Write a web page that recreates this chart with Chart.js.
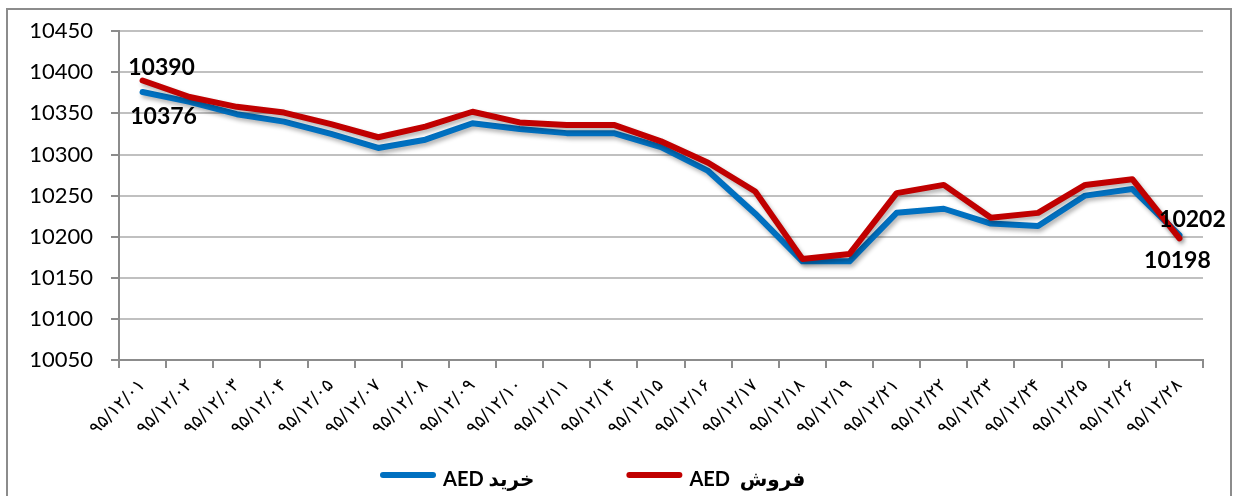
<!DOCTYPE html>
<html>
<head>
<meta charset="utf-8">
<title>AED</title>
<script src="https://cdn.jsdelivr.net/npm/chart.js@4.4.0/dist/chart.umd.min.js"></script>
<style>
  html, body { margin: 0; padding: 0; background: #fff; }
  #wrap { position: relative; width: 1233px; height: 496px; overflow: hidden; }
  #frame { position: absolute; left: 6px; top: 8px; width: 1226px; height: 520px;
           border: 2px solid #8c8c8c; box-sizing: border-box; }
  #rateChart { position: absolute; left: 0; top: 0; }
</style>
</head>
<body>
<div id="wrap">
  <div id="frame"></div>
  <canvas id="rateChart" width="1233" height="496"></canvas>
</div>
<script>
// dates (Persian calendar)
const dates = ['۹۵/۱۲/۰۱', '۹۵/۱۲/۰۲', '۹۵/۱۲/۰۳', '۹۵/۱۲/۰۴', '۹۵/۱۲/۰۵', '۹۵/۱۲/۰۷',
  '۹۵/۱۲/۰۸', '۹۵/۱۲/۰۹', '۹۵/۱۲/۱۰', '۹۵/۱۲/۱۱', '۹۵/۱۲/۱۴', '۹۵/۱۲/۱۵',
  '۹۵/۱۲/۱۶', '۹۵/۱۲/۱۷', '۹۵/۱۲/۱۸', '۹۵/۱۲/۱۹', '۹۵/۱۲/۲۱', '۹۵/۱۲/۲۲',
  '۹۵/۱۲/۲۳', '۹۵/۱۲/۲۴', '۹۵/۱۲/۲۵', '۹۵/۱۲/۲۶', '۹۵/۱۲/۲۸'];

const seriesNames = ['خرید AED', 'فروش  AED'];

// buy (blue) and sell (red)
const buyAED = [10376, 10364, 10349, 10340, 10325, 10308, 10318, 10338, 10331, 10326, 10326, 10309,
  10280, 10228, 10170, 10170, 10229, 10234, 10216, 10213, 10250, 10258, 10202];
const sellAED = [10390, 10370, 10358, 10351, 10337, 10321, 10334, 10352, 10339, 10336, 10336, 10316,
  10290, 10255, 10173, 10179, 10253, 10263, 10223, 10229, 10263, 10270, 10198];

const yMin = 10050;
const yMax = 10450;
const yStep = 50;

// soft drop shadow under the lines, like the excel effect
const lineShadow = {
  id: 'lineShadow',
  beforeDatasetsDraw(chart) {
    const c = chart.ctx;
    c.save();
    c.shadowColor = 'rgba(0,0,0,0.3)';
    c.shadowBlur = 4;
    c.shadowOffsetX = 2;
    c.shadowOffsetY = 3;
  },
  afterDatasetsDraw(chart) {
    chart.ctx.restore();
  }
};

// value labels on first and last point of each line
const endLabels = {
  id: 'endLabels',
  afterDraw(chart) {
    const c = chart.ctx;
    // [datasetIndex, pointIndex, dx, dy]
    const spots = [[0, 0, 21, 25], [1, 0, 19, -13], [0, buyAED.length - 1, 13, -15], [1, sellAED.length - 1, -2, 22]];
    c.save();
    c.font = 'bold 23px Lato, "DejaVu Sans"';
    c.fillStyle = '#000';
    c.textAlign = 'center';
    c.textBaseline = 'middle';
    spots.forEach(function(s) {
      const pt = chart.getDatasetMeta(s[0]).data[s[1]];
      const val = chart.data.datasets[s[0]].data[s[1]];
      c.fillText(String(val), pt.x + s[2], pt.y + s[3]);
    });
    c.restore();
  }
};

// legend drawn under the axis, line swatch + bold label
const bottomLegend = {
  id: 'bottomLegend',
  afterDraw(chart) {
    const c = chart.ctx;
    let x = 380;
    c.save();
    c.font = 'bold 20px Lato, "DejaVu Sans"';
    c.textBaseline = 'middle';
    c.direction = 'rtl';
    c.textAlign = 'left';
    chart.data.datasets.forEach(function(ds) {
      c.strokeStyle = ds.borderColor;
      c.lineWidth = 6;
      c.lineCap = 'round';
      c.beginPath();
      c.moveTo(x + 3, 475);
      c.lineTo(x + 53, 475);
      c.stroke();
      x += 63;
      c.fillStyle = '#000';
      c.fillText(ds.label, x, 480);
      x += c.measureText(ds.label).width + 92;
    });
    c.restore();
  }
};

const chart = new Chart(document.getElementById('rateChart'), {
  type: 'line',
  data: {
    labels: dates,
    datasets: [
      {
        label: seriesNames[0],
        data: buyAED,
        borderColor: '#0070C0',
        backgroundColor: '#0070C0',
        borderWidth: 6,
        pointRadius: 0,
        borderCapStyle: 'round',
        borderJoinStyle: 'round',
        order: 1
      },
      {
        label: seriesNames[1],
        data: sellAED,
        borderColor: '#C00000',
        backgroundColor: '#C00000',
        borderWidth: 6,
        pointRadius: 0,
        borderCapStyle: 'round',
        borderJoinStyle: 'round',
        order: 0
      }
    ]
  },
  options: {
    responsive: false,
    animation: false,
    devicePixelRatio: 1,
    layout: { padding: { left: 0, right: 30, top: 31, bottom: 56 } },
    plugins: {
      legend: { display: false },
      tooltip: { enabled: false }
    },
    scales: {
      x: {
        offset: true,
        grid: { offset: true, drawOnChartArea: false, tickLength: 8, color: '#8c8c8c', lineWidth: 2 },
        border: { color: '#8c8c8c', width: 2 },
        ticks: {
          autoSkip: false, minRotation: 45, maxRotation: 45, padding: 7,
          color: '#000', font: { family: '"DejaVu Sans"', size: 18 }
        },
        afterFit: function(scale) { scale.height = 80; }
      },
      y: {
        min: yMin,
        max: yMax,
        grid: { color: '#c0c0c0', lineWidth: 2, tickLength: 8, tickColor: '#8c8c8c' },
        border: { color: '#8c8c8c', width: 2 },
        ticks: {
          stepSize: yStep, padding: 18, color: '#000',
          font: { family: 'Lato', size: 22 },
          callback: function(v) { return String(v); }
        },
        afterFit: function(scale) { scale.width = 119; }
      }
    }
  },
  plugins: [lineShadow, endLabels, bottomLegend]
});
</script>
</body>
</html>
